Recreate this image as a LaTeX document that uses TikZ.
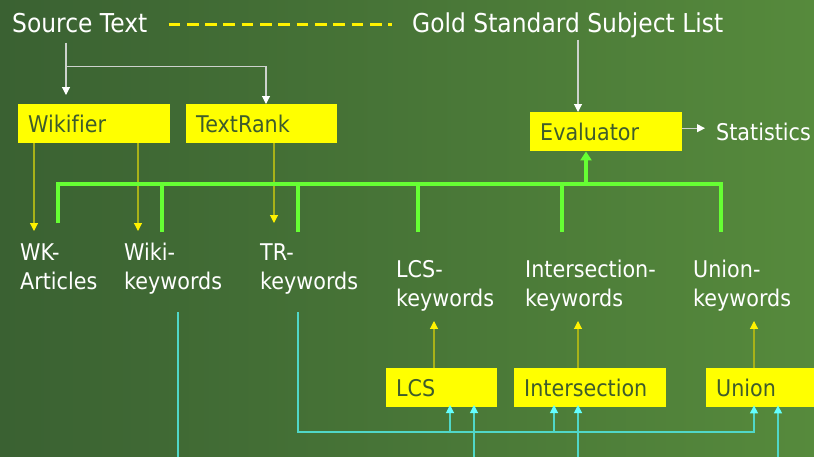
\documentclass[tikz,border=0pt]{standalone}
\usepackage{fontspec}
\setmainfont{DejaVu Sans}[FakeStretch=0.9,Ligatures=CommonOff]
\usetikzlibrary{arrows.meta,calc}

\definecolor{bgL}{RGB}{58,97,50}
\definecolor{bgR}{RGB}{86,138,60}
\definecolor{boxfill}{RGB}{255,255,0}
\definecolor{boxtext}{RGB}{62,92,44}
\definecolor{busgreen}{RGB}{102,255,51}
\definecolor{olive}{RGB}{168,178,24}
\definecolor{tealline}{RGB}{80,215,200}
\definecolor{cyanhead}{RGB}{100,255,255}
\definecolor{greyline}{RGB}{205,210,205}

\tikzset{
  title/.style={text=white, font=\fontsize{26}{31}\selectfont, inner sep=0pt, anchor=base west},
  lbl/.style={text=white, font=\fontsize{23}{29}\selectfont, inner sep=0pt, anchor=base west, align=left},
  proc/.style={fill=boxfill, text=boxtext, font=\fontsize{23}{29}\selectfont,
    anchor=north west, minimum height=39pt, inner ysep=0pt, inner xsep=10pt,
    text width=#1, align=left, text height=17pt, text depth=0pt},
  wha/.style={draw=greyline, line width=1.1pt, -{Triangle[width=8pt,length=8pt,color=white]}},
  oly/.style={draw=olive, line width=1.1pt, -{Triangle[width=8pt,length=8pt,color=yellow]}},
  tea/.style={draw=tealline, line width=1.1pt},
  teaa/.style={tea, -{Triangle[width=8pt,length=8pt,color=cyanhead]}},
  bus/.style={draw=busgreen, line width=3.5pt},
  goldlink/.style={draw=yellow, line width=3pt, dash pattern=on 11.7pt off 6.6pt},
}

\begin{document}
\begin{tikzpicture}[x=1pt,y=-1pt]
  \useasboundingbox (0,0) rectangle (814,456);
  \clip (0,0) rectangle (814,456);
  \fill[left color=bgL, right color=bgR] (0,0) rectangle (814,456);

  % top row
  \node[title] (src)  at (12,32)  {Source Text};
  \node[title] (gold) at (412,32) {Gold Standard Subject List};
  \draw[goldlink] ($(src.base east)+(21,-8)$) -- ($(gold.base west)+(-20,-8)$);

  % processing boxes
  \node[proc=132pt] (wik)   at (18,104)  {Wikifier};
  \node[proc=131pt] (tr)    at (186,104) {TextRank};
  \node[proc=132pt] (ev)    at (530,112) {Evaluator};
  \node[proc=91pt]  (lcs)   at (386,368) {LCS};
  \node[proc=132pt] (inter) at (514,368) {Intersection};
  \node[proc=88pt]  (uni)   at (706,368) {Union};

  % keyword sets (base anchor sits on the last line)
  \node[lbl] (stats) at (716,140) {Statistics};
  \node[lbl] (wka)   at (20,289)  {WK-\\Articles};
  \node[lbl] (wikik) at (124,289) {Wiki-\\keywords};
  \node[lbl] (trk)   at (260,289) {TR-\\keywords};
  \node[lbl] (lcsk)  at (396,306) {LCS-\\keywords};
  \node[lbl] (intk)  at (525,306) {Intersection-\\keywords};
  \node[lbl] (unik)  at (693,306) {Union-\\keywords};

  % source text feeds both extractors
  \coordinate (s1) at ($(src.south west)+(54,10)$);
  \draw[wha, shorten >=9pt] (s1) -- (wik.north -| s1);
  \draw[wha] ($(s1)+(0,24)$) -| ($(tr.north west)+(80,0)$);

  % gold standard and statistics
  \coordinate (g1) at ($(gold.south west)+(166,2)$);
  \draw[wha] (g1) -- (ev.north -| g1);
  \draw[wha, shorten >=11pt] ([yshift=3.5pt]ev.east) -- ([yshift=3.5pt]ev.east -| stats.west);

  % extractor outputs
  \coordinate (o1) at (34,231);
  \coordinate (o2) at (138,231);
  \coordinate (o3) at (274,223);
  \draw[oly] ($(wik.south west)+(16,0)$) -- (o1);
  \draw[oly] ($(wik.south west)+(120,0)$) -- (o2);
  \draw[oly] ($(tr.south west)+(88,0)$) -- (o3);

  % combination outputs
  \draw[oly, shorten >=10pt] ($(lcs.north west)+(48,0)$) coordinate (c1) -- (lcsk.south -| c1);
  \draw[oly, shorten >=10pt] ($(inter.north west)+(64,0)$) coordinate (c2) -- (intk.south -| c2);
  \draw[oly, shorten >=10pt] ($(uni.north west)+(48,0)$) coordinate (c3) -- (unik.south -| c3);

  % bus collecting every keyword set into the evaluator
  \coordinate (busL) at (58,184);
  \coordinate (busR) at (721,184);
  \coordinate (d1) at (58,223);
  \coordinate (d2) at (162,232);
  \coordinate (d3) at (298,232);
  \coordinate (d4) at (418,232);
  \coordinate (d5) at (562,232);
  \coordinate (d6) at (721,232);
  \draw[bus] (d1) -- (busL) -- (busR) -- (d6);
  \foreach \d in {d2,d3,d4,d5} \draw[bus] (\d) -- (\d |- busL);
  \draw[bus, -{Triangle[width=11pt,length=9pt]}] ($(ev.south west)+(56,33)$) -- ($(ev.south west)+(56,0)$);

  % TR-keywords into the combiners
  \coordinate (t0) at (298,312);
  \coordinate (t1) at (298,432);
  \draw[teaa, shorten >=-2pt] (t0) -- (t1) -| ($(uni.south west)+(48,0)$);
  \draw[teaa, shorten >=-2pt] (t1 -| lcs.south west) ++(64,0) -- ++(0,-25);
  \draw[teaa, shorten >=-2pt] (t1 -| inter.south west) ++(40,0) -- ++(0,-25);

  % Wiki-keywords into the combiners
  \coordinate (w0) at (178,312);
  \coordinate (w1) at (178,464);
  \draw[teaa, shorten >=-2pt] (w0) -- (w1) -| ($(uni.south west)+(72,0)$);
  \draw[teaa, shorten >=-2pt] (w1 -| lcs.south west) ++(88,0) -- ++(0,-57);
  \draw[teaa, shorten >=-2pt] (w1 -| inter.south west) ++(64,0) -- ++(0,-57);
\end{tikzpicture}
\end{document}
